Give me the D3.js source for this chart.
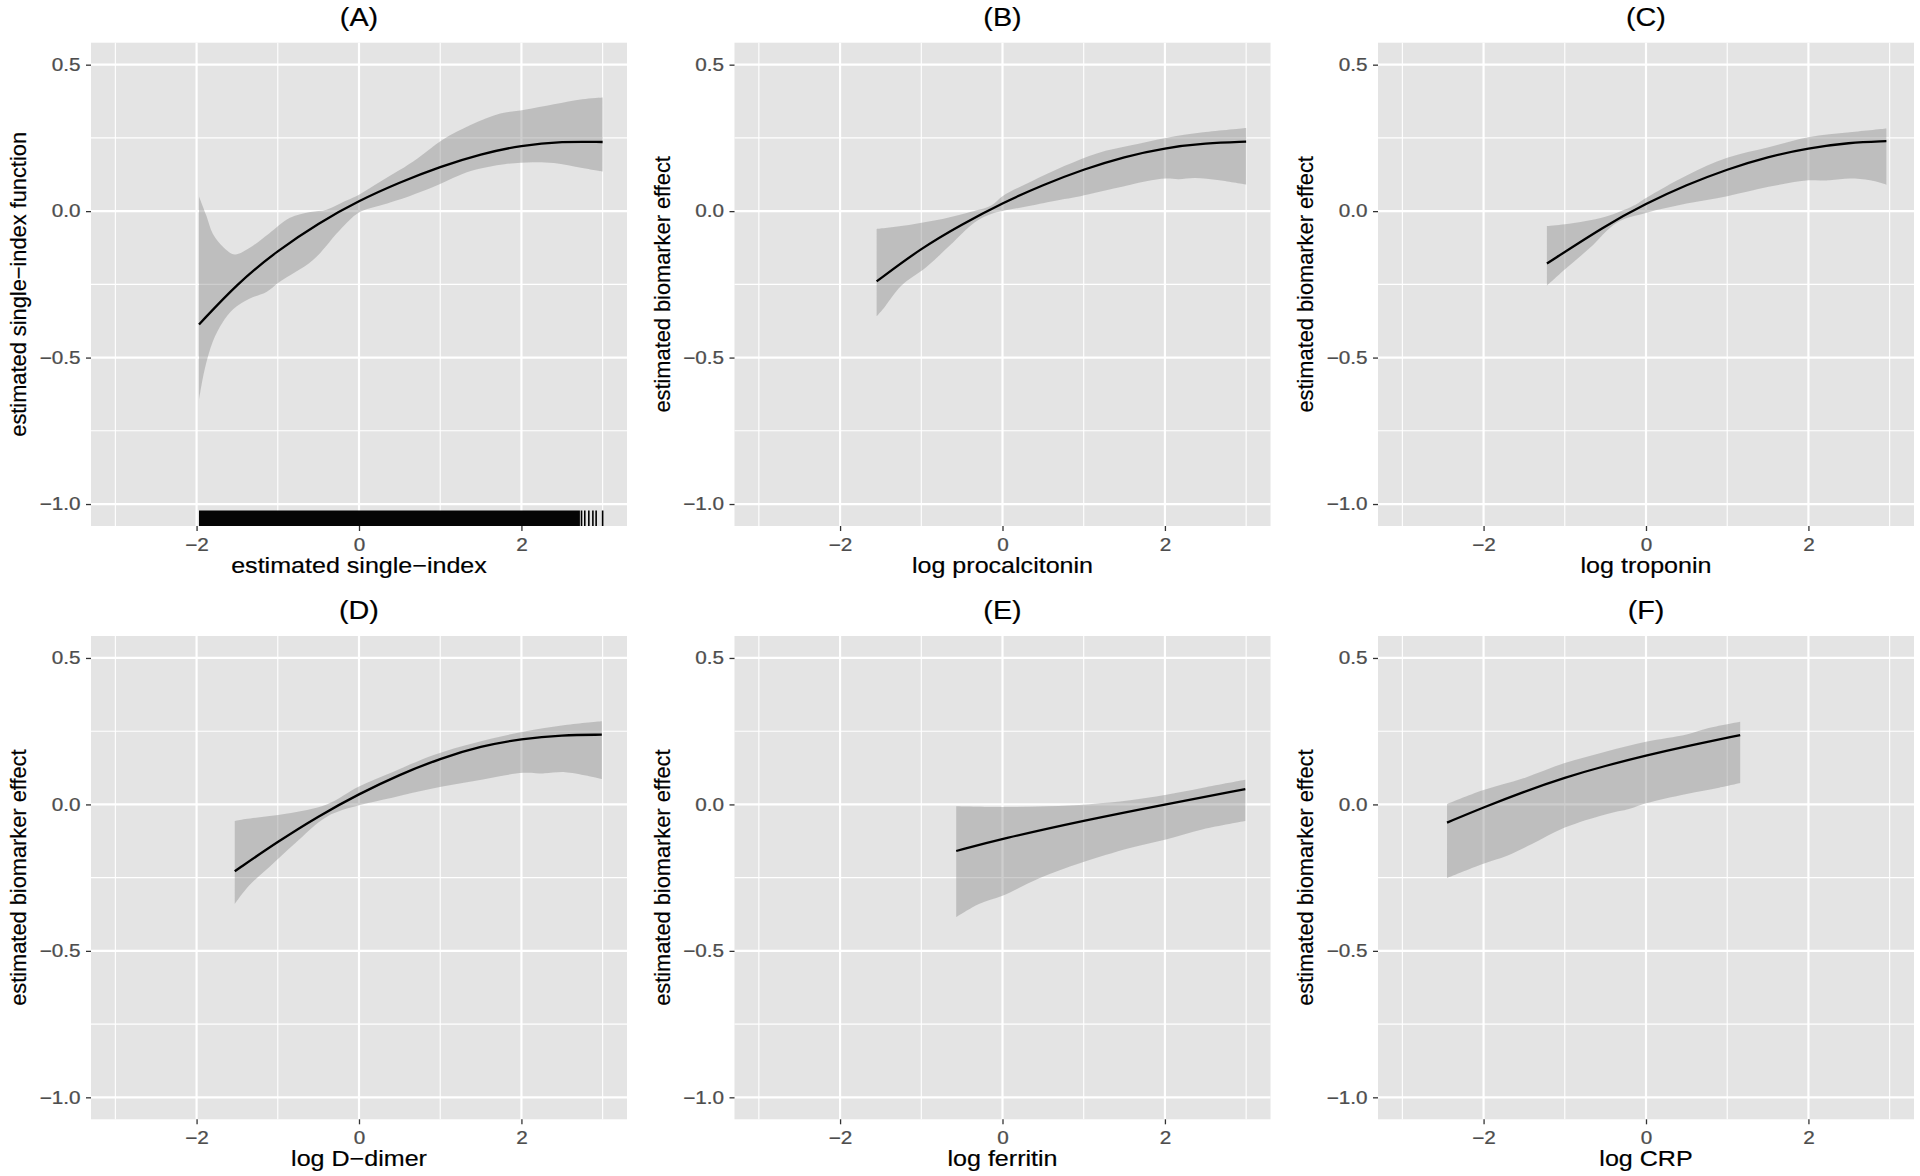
<!DOCTYPE html>
<html>
<head>
<meta charset="utf-8">
<script src="https://cdn.jsdelivr.net/npm/d3@7"></script>
<style>
  html, body { margin: 0; padding: 0; background: #ffffff; }
  svg { display: block; }
  text { font-family: "Liberation Sans", Arial, Helvetica, sans-serif; }
</style>
</head>
<body>
<svg id="chart" width="1920" height="1176"></svg>
<script>
// ---------------- data ----------------
const panelTitles = ["(A)", "(B)", "(C)", "(D)", "(E)", "(F)"];
const xTitles = ["estimated single\u2212index", "log procalcitonin", "log troponin",
                 "log D\u2212dimer", "log ferritin", "log CRP"];
const yTitles = ["estimated single\u2212index function", "estimated biomarker effect",
                 "estimated biomarker effect", "estimated biomarker effect",
                 "estimated biomarker effect", "estimated biomarker effect"];

const xMajorTicks = [-2, 0, 2];
const xMinorTicks = [-3, -1, 1, 3];
const yMajorTicks = [-1.0, -0.5, 0.0, 0.5];
const yMinorTicks = [-0.75, -0.25, 0.25];

// (A) single-index function
const lineAx = [-1.97, -1.5, -1.0, -0.5, 0, 0.5, 1.0, 1.5, 2.0, 2.5, 3.0];
const lineAy = [-0.387, -0.247, -0.134, -0.041, 0.036, 0.098, 0.152, 0.195, 0.225, 0.238, 0.236];
const upperAx = [-1.97, -1.88, -1.80, -1.67, -1.53, -1.36, -1.11, -0.85, -0.60, -0.40, -0.155, 0, 0.26, 0.50, 0.72, 1.03, 1.38, 1.74, 2.04, 2.40, 2.75, 3.0];
const upperAy = [0.050, -0.015, -0.077, -0.123, -0.148, -0.128, -0.077, -0.023, -0.003, 0.005, 0.036, 0.056, 0.100, 0.140, 0.180, 0.244, 0.295, 0.333, 0.346, 0.365, 0.382, 0.388];
const lowerAx = [-1.97, -1.90, -1.80, -1.68, -1.55, -1.35, -1.14, -0.98, -0.57, -0.24, 0, 0.26, 0.62, 0.92, 1.23, 1.43, 1.79, 2.14, 2.40, 2.75, 3.0];
const lowerAy = [-0.645, -0.54, -0.445, -0.38, -0.335, -0.299, -0.276, -0.242, -0.168, -0.066, -0.005, 0.019, 0.051, 0.083, 0.122, 0.141, 0.160, 0.167, 0.164, 0.147, 0.135];
// rug of estimated single-index values: a solid dense stretch plus sparse ticks at the right end
const rugDenseA = [-1.97, 2.72];
const rugSparseA = [2.74, 2.78, 2.83, 2.88, 2.92, 3.00];

// (B) log procalcitonin
const lineBx = [-1.55, -1.0, -0.5, 0, 0.5, 1.0, 1.5, 2.0, 2.5, 3.0];
const lineBy = [-0.240, -0.126, -0.045, 0.028, 0.090, 0.143, 0.186, 0.216, 0.232, 0.237];
const upperBx = [-1.55, -1.25, -0.84, -0.44, -0.14, 0, 0.36, 0.76, 1.17, 1.57, 2.01, 2.47, 3.0];
const upperBy = [-0.061, -0.051, -0.032, -0.006, 0.019, 0.051, 0.102, 0.154, 0.198, 0.224, 0.250, 0.269, 0.284];
const lowerBx = [-1.55, -1.45, -1.25, -0.94, -0.64, -0.34, -0.14, 0, 0.36, 0.76, 0.96, 1.37, 1.77, 2.01, 2.17, 2.37, 2.67, 3.0];
const lowerBy = [-0.359, -0.327, -0.256, -0.192, -0.115, -0.038, -0.010, 0.0, 0.019, 0.041, 0.051, 0.077, 0.102, 0.111, 0.109, 0.113, 0.105, 0.090];

// (C) log troponin
const lineCx = [-1.22, -0.5, 0, 0.5, 1.0, 1.5, 2.0, 2.5, 2.96];
const lineCy = [-0.179, -0.049, 0.026, 0.090, 0.143, 0.186, 0.215, 0.234, 0.239];
const upperCx = [-1.22, -1.0, -0.5, -0.15, 0, 0.5, 1.0, 1.51, 2.0, 2.51, 2.96];
const upperCy = [-0.051, -0.045, -0.019, 0.019, 0.045, 0.122, 0.182, 0.218, 0.252, 0.269, 0.282];
const lowerCx = [-1.22, -1.0, -0.70, -0.35, 0, 0.5, 1.0, 1.51, 2.0, 2.26, 2.51, 2.76, 2.96];
const lowerCy = [-0.254, -0.199, -0.128, -0.038, -0.006, 0.026, 0.051, 0.083, 0.105, 0.105, 0.111, 0.105, 0.090];

// (D) log D-dimer
const lineDx = [-1.53, -1.0, -0.5, 0, 0.5, 1.0, 1.5, 2.0, 2.5, 2.99];
const lineDy = [-0.228, -0.127, -0.040, 0.036, 0.102, 0.157, 0.199, 0.224, 0.237, 0.238];
const upperDx = [-1.53, -1.40, -0.90, -0.39, 0, 0.41, 0.92, 1.42, 2.02, 2.54, 2.99];
const upperDy = [-0.057, -0.050, -0.032, 0.001, 0.061, 0.110, 0.169, 0.210, 0.248, 0.271, 0.284];
const lowerDx = [-1.53, -1.35, -1.10, -0.80, -0.39, 0, 0.41, 0.92, 1.42, 2.02, 2.28, 2.54, 2.99];
const lowerDy = [-0.340, -0.276, -0.213, -0.136, -0.041, -0.003, 0.023, 0.055, 0.080, 0.108, 0.106, 0.110, 0.087];

// (E) log ferritin
const lineEx = [-0.57, 0, 1.0, 2.0, 2.99];
const lineEy = [-0.159, -0.117, -0.055, 0.0, 0.052];
const upperEx = [-0.57, 0, 0.56, 1.07, 1.57, 2.0, 2.47, 2.99];
const upperEy = [-0.006, -0.009, -0.006, 0.001, 0.014, 0.032, 0.057, 0.084];
const lowerEx = [-0.57, -0.29, 0, 0.46, 0.96, 1.57, 2.0, 2.47, 2.99];
const lowerEy = [-0.385, -0.340, -0.312, -0.251, -0.200, -0.149, -0.121, -0.085, -0.057];

// (F) log CRP
const lineFx = [-2.45, -2.0, -1.5, -1.0, -0.5, 0, 0.5, 1.16];
const lineFy = [-0.062, -0.010, 0.044, 0.092, 0.132, 0.167, 0.199, 0.237];
const upperFx = [-2.45, -2.01, -1.51, -1.0, -0.5, 0, 0.5, 0.75, 1.16];
const upperFy = [0.001, 0.048, 0.089, 0.141, 0.180, 0.214, 0.239, 0.259, 0.282];
const lowerFx = [-2.45, -2.01, -1.71, -1.41, -1.0, -0.5, -0.2, 0, 0.5, 0.9, 1.16];
const lowerFy = [-0.251, -0.203, -0.175, -0.136, -0.079, -0.034, -0.015, 0.004, 0.036, 0.057, 0.073];

const panelsData = [
  { lx: lineAx, ly: lineAy, ux: upperAx, uy: upperAy, dx: lowerAx, dy: lowerAy, rug: true },
  { lx: lineBx, ly: lineBy, ux: upperBx, uy: upperBy, dx: lowerBx, dy: lowerBy },
  { lx: lineCx, ly: lineCy, ux: upperCx, uy: upperCy, dx: lowerCx, dy: lowerCy },
  { lx: lineDx, ly: lineDy, ux: upperDx, uy: upperDy, dx: lowerDx, dy: lowerDy },
  { lx: lineEx, ly: lineEy, ux: upperEx, uy: upperEy, dx: lowerEx, dy: lowerEy },
  { lx: lineFx, ly: lineFy, ux: upperFx, uy: upperFy, dx: lowerFx, dy: lowerFy }
];

// ---------------- layout ----------------
const colLeft = [91, 734.5, 1378];
const rowTop = [42.7, 636];
const PW = 536, PH = 483.3;
const SX = 1.15;            // horizontal text stretch seen in the reference
const FS_TICK = 18, FS_AXIS = 21.8, FS_TITLE = 25;

const svg = d3.select("#chart");

panelsData.forEach((p, i) => {
  const col = i % 3, row = Math.floor(i / 3);
  const L = colLeft[col], T = rowTop[row];
  const g = svg.append("g").attr("transform", `translate(${L},${T})`);

  const x = d3.scaleLinear().domain([-3.3, 3.3]).range([0, PW]);
  const y = d3.scaleLinear().domain([-1.075, 0.575]).range([PH, 0]);

  // panel background
  g.append("rect").attr("width", PW).attr("height", PH).attr("fill", "#e4e4e4");

  // grid
  const grid = g.append("g");
  grid.selectAll(".xmin").data(xMinorTicks).join("line")
    .attr("x1", d => x(d)).attr("x2", d => x(d)).attr("y1", 0).attr("y2", PH)
    .attr("stroke", "#fff").attr("stroke-width", 1.1);
  grid.selectAll(".ymin").data(yMinorTicks).join("line")
    .attr("y1", d => y(d)).attr("y2", d => y(d)).attr("x1", 0).attr("x2", PW)
    .attr("stroke", "#fff").attr("stroke-width", 1.1);
  grid.selectAll(".xmaj").data(xMajorTicks).join("line")
    .attr("x1", d => x(d)).attr("x2", d => x(d)).attr("y1", 0).attr("y2", PH)
    .attr("stroke", "#fff").attr("stroke-width", 2.2);
  grid.selectAll(".ymaj").data(yMajorTicks).join("line")
    .attr("y1", d => y(d)).attr("y2", d => y(d)).attr("x1", 0).attr("x2", PW)
    .attr("stroke", "#fff").attr("stroke-width", 2.2);

  // confidence band
  const upper = p.ux.map((v, k) => [v, p.uy[k]]);
  const lower = p.dx.map((v, k) => [v, p.dy[k]]).reverse();
  const edge = d3.line().x(d => x(d[0])).y(d => y(d[1])).curve(d3.curveCatmullRom.alpha(0.5));
  const bandPath = edge(upper) + "L" + edge(lower).slice(1) + "Z";
  g.append("path").attr("d", bandPath).attr("fill", "#8a8a8a").attr("fill-opacity", 0.42);

  // fitted curve (smooth)
  const smooth = d3.line().x(d => x(d[0])).y(d => y(d[1])).curve(d3.curveBasis);
  const pts = p.lx.map((v, k) => [v, p.ly[k]]);
  g.append("path").attr("d", smooth(pts)).attr("fill", "none")
    .attr("stroke", "#000").attr("stroke-width", 2.3).attr("stroke-linecap", "butt");

  // rug
  if (p.rug) {
    const rugLen = 15.5;
    g.append("rect").attr("x", x(rugDenseA[0])).attr("width", x(rugDenseA[1]) - x(rugDenseA[0]))
      .attr("y", PH - rugLen).attr("height", rugLen).attr("fill", "#050505");
    g.selectAll(".rug").data(rugSparseA).join("line")
      .attr("x1", d => x(d)).attr("x2", d => x(d)).attr("y1", PH - rugLen).attr("y2", PH)
      .attr("stroke", "#000").attr("stroke-width", 1.6);
  }

  // axes
  const xAxis = d3.axisBottom(x).tickValues(xMajorTicks).tickSize(5).tickPadding(7.2)
    .tickFormat(d3.format("d"));
  const yAxis = d3.axisLeft(y).tickValues(yMajorTicks).tickSize(5).tickPadding(5.5)
    .tickFormat(d3.format(".1f"));
  const gx = g.append("g").attr("transform", `translate(0,${PH})`).call(xAxis);
  const gy = g.append("g").call(yAxis);
  [gx, gy].forEach(a => {
    a.select(".domain").remove();
    a.selectAll(".tick line").attr("stroke", "#333").attr("stroke-width", 1.3);
    a.selectAll(".tick text").attr("fill", "#4d4d4d").style("font-size", FS_TICK + "px")
      .style("font-family", '"Liberation Sans", Arial, sans-serif')
      .attr("stroke", "#4d4d4d").attr("stroke-width", 0.25)
      .attr("transform", `scale(${SX},1)`);
  });
  gy.selectAll(".tick text").attr("x", -10.5 / SX);

  // panel title
  g.append("text").attr("transform", `translate(${PW / 2},${-17}) scale(${SX},1)`)
    .attr("text-anchor", "middle").style("font-size", FS_TITLE + "px").attr("fill", "#000")
    .attr("stroke", "#000").attr("stroke-width", 0.2)
    .text(panelTitles[i]);

  // x axis title
  g.append("text").attr("transform", `translate(${PW / 2},${PH + 47}) scale(${SX},1)`)
    .attr("text-anchor", "middle").style("font-size", FS_AXIS + "px").attr("fill", "#000")
    .attr("stroke", "#000").attr("stroke-width", 0.2)
    .text(xTitles[i]);

  // y axis title
  g.append("text").attr("transform", `translate(${-65},${PH / 2}) rotate(-90)`)
    .attr("text-anchor", "middle").style("font-size", FS_AXIS + "px").attr("fill", "#000")
    .attr("stroke", "#000").attr("stroke-width", 0.2)
    .text(yTitles[i]);
});
</script>
</body>
</html>
